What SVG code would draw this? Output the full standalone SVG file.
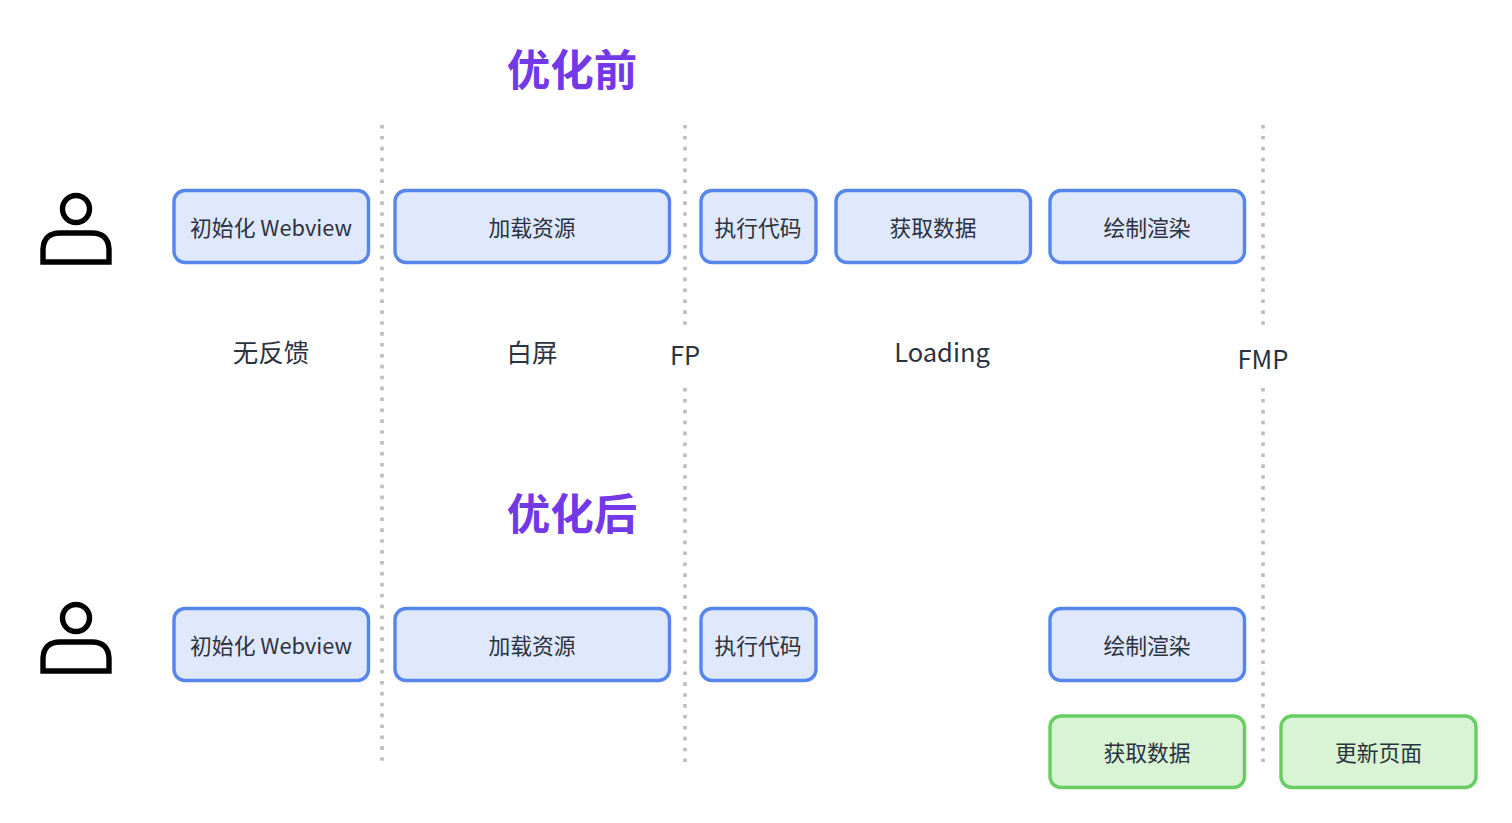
<svg xmlns="http://www.w3.org/2000/svg" width="1512" height="823" viewBox="0 0 1512 823">
<defs>
<style>
text{font-family:"Noto Sans CJK SC","Noto Sans",sans-serif;text-anchor:middle;fill:#2b3240}
.box{stroke-width:3.4}
.b{fill:#dfe8fc;stroke:#5686ec}
.g{fill:#d8f4d4;stroke:#68ce62}
.t{font-size:21.8px}
.l{font-size:25.5px}
.h{font-size:43.5px;font-weight:700;fill:#7338e8}
.d{stroke:#bdbdc0;stroke-width:3.6;stroke-dasharray:3.6 7.3;fill:none}
.u{fill:none;stroke:#000;stroke-width:5.4}
</style>
<g id="person"><circle cx="76" cy="209" r="13.500" class="u"/><path d="M43 262V249C43.500 238 50 233 60 233H92C102 233 108.500 238 109 249V262Z" class="u"/></g>
</defs>
<rect width="1512" height="823" fill="#fff"/>
<g id="connectors">
<path class="d" d="M382 125V762"/>
<path class="d" d="M685 125V325M685 388V762"/>
<path class="d" d="M1263 125V325M1263 388V762"/>
</g>
<g id="title-before"><text class="h" x="572" y="86">优化前</text></g>
<g id="title-after"><text class="h" x="572" y="530">优化后</text></g>
<g id="user-before"><use href="#person"/></g>
<g id="user-after"><use href="#person" y="409"/></g>
<g id="n1"><rect class="box b" x="174" y="190.500" width="194.500" height="72" rx="11"/><text class="t" x="271" y="235.500">初始化 Webview</text></g>
<g id="n2"><rect class="box b" x="395" y="190.500" width="274.500" height="72" rx="11"/><text class="t" x="532" y="235.500">加载资源</text></g>
<g id="n3"><rect class="box b" x="701" y="190.500" width="115" height="72" rx="11"/><text class="t" x="758" y="235.500">执行代码</text></g>
<g id="n4"><rect class="box b" x="836" y="190.500" width="194.500" height="72" rx="11"/><text class="t" x="933" y="235.500">获取数据</text></g>
<g id="n5"><rect class="box b" x="1050" y="190.500" width="194.500" height="72" rx="11"/><text class="t" x="1147" y="235.500">绘制渲染</text></g>
<g id="label-none"><text class="l" x="271" y="361.500">无反馈</text></g>
<g id="label-white"><text class="l" x="532" y="361.500">白屏</text></g>
<g id="label-fp"><text class="l" x="685" y="364.500">FP</text></g>
<g id="label-loading"><text class="l" x="942" y="361.500">Loading</text></g>
<g id="label-fmp"><text class="l" x="1263" y="368.500">FMP</text></g>
<g id="m1"><rect class="box b" x="174" y="608.500" width="194.500" height="72" rx="11"/><text class="t" x="271" y="653.500">初始化 Webview</text></g>
<g id="m2"><rect class="box b" x="395" y="608.500" width="274.500" height="72" rx="11"/><text class="t" x="532" y="653.500">加载资源</text></g>
<g id="m3"><rect class="box b" x="701" y="608.500" width="115" height="72" rx="11"/><text class="t" x="758" y="653.500">执行代码</text></g>
<g id="m5"><rect class="box b" x="1050" y="608.500" width="194.500" height="72" rx="11"/><text class="t" x="1147" y="653.500">绘制渲染</text></g>
<g id="m4"><rect class="box g" x="1050" y="716" width="194.500" height="71.500" rx="11"/><text class="t" x="1147" y="760.500">获取数据</text></g>
<g id="m6"><rect class="box g" x="1281" y="716" width="195" height="71.500" rx="11"/><text class="t" x="1378.500" y="760.500">更新页面</text></g>
</svg>
